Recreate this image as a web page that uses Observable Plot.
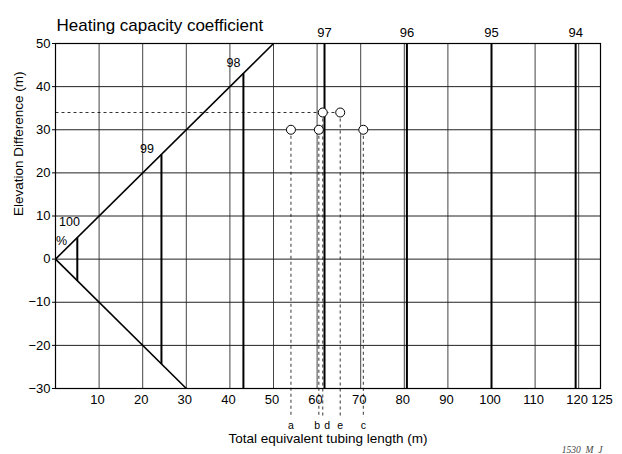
<!DOCTYPE html>
<html>
<head>
<meta charset="utf-8">
<script src="https://cdn.jsdelivr.net/npm/d3@7"></script>
<script src="https://cdn.jsdelivr.net/npm/@observablehq/plot@0.6"></script>
<style>
  html, body { margin: 0; padding: 0; background: #fff; }
</style>
</head>
<body>
<div id="chart"></div>
<script>
// ---- data ----
const xTicks = [10, 20, 30, 40, 50, 60, 70, 80, 90, 100, 110, 120];
const xEndTick = [125];
const xGrid = [10, 20, 30, 40, 50, 60, 70, 80, 90, 100, 110, 120];
const yTicks = [-30, -20, -10, 0, 10, 20, 30, 40, 50];
const yGrid = [-20, -10, 0, 10, 20, 30, 40];

// envelope (diagonal) lines
const diagX1 = [0, 0];
const diagY1 = [0, 0];
const diagX2 = [50, 30];
const diagY2 = [50, -30];

// heating capacity coefficient lines
const coefLabels = ["100", "99", "98", "97", "96", "95", "94"];
const coefX = [5, 24.3, 43.1, 61.7, 80.6, 100, 119.3];
const coefYLow = [-5, -24.3, -30, -30, -30, -30, -30];
const coefYHigh = [5, 24.3, 43.1, 50, 50, 50, 50];

// inner labels (for coefficients inside the frame)
const innerText = ["100", "%", "99", "98"];
const innerX = [3.2, 1.4, 21, 40.8];
const innerY = [8.6, 4.3, 25.5, 45.4];

// example points
const pointNames = ["a", "b", "c", "d", "e"];
const pointX = [54, 60.4, 70.6, 61.3, 65.3];
const pointY = [30, 30, 30, 34, 34];
const pointLabelX = [54, 60.0, 70.6, 62.3, 65.3];
const dropToY = -36.8;
const labelY = -38.5;

const titleText = "Heating capacity coefficient";
const xLabel = "Total equivalent tubing length (m)";
const yLabel = "Elevation Difference (m)";
const caption = "1530_M_J";

// ---- tables ----
const diags = diagX1.map((d, i) => ({x1: d, y1: diagY1[i], x2: diagX2[i], y2: diagY2[i]}));
const coefs = coefLabels.map((l, i) => ({label: l, x: coefX[i], y1: coefYLow[i], y2: coefYHigh[i]}));
const topCoefs = coefs.filter(d => d.y2 === 50);
const inner = innerText.map((t, i) => ({t, x: innerX[i], y: innerY[i]}));
const pts = pointNames.map((n, i) => ({n, x: pointX[i], y: pointY[i], lx: pointLabelX[i]}));
const eIdx = pointNames.indexOf("e");
const hDash = [{x1: 0, x2: pointX[eIdx], y: pointY[eIdx]}];

const chart = Plot.plot({
  width: 622,
  height: 454,
  marginLeft: 55,
  marginRight: 22,
  marginTop: 43,
  marginBottom: 66,
  style: {fontFamily: "'Liberation Sans', Arial, sans-serif", fontSize: "13px", background: "#fff", color: "#000"},
  x: {domain: [0, 125]},
  y: {domain: [-30, 50]},
  marks: [
    Plot.gridX(xGrid, {stroke: "#444", strokeOpacity: 1, strokeWidth: 1}),
    Plot.gridY(yGrid, {stroke: "#222", strokeOpacity: 1, strokeWidth: 1}),
    Plot.frame({stroke: "#000", strokeWidth: 1.2}),
    Plot.axisX({ticks: xTicks, tickSize: 0, tickPadding: 6, label: null, fontSize: 13, dx: -1.5}),
    Plot.axisX({ticks: xEndTick, tickSize: 0, tickPadding: 6, label: null, fontSize: 13, dx: 1.5}),
    Plot.axisY({ticks: yTicks, tickSize: 3, tickPadding: 2, label: null, fontSize: 13}),
    // envelope diagonals
    Plot.link(diags, {x1: "x1", y1: "y1", x2: "x2", y2: "y2", stroke: "#000", strokeWidth: 1.6}),
    // coefficient lines
    Plot.link(coefs, {x1: "x", x2: "x", y1: "y1", y2: "y2", stroke: "#000", strokeWidth: 2}),
    Plot.text(topCoefs, {x: "x", y: 50, text: "label", dy: -11, fontSize: 13}),
    Plot.text(inner, {x: "x", y: "y", text: "t", fontSize: 12.5}),
    // dashed reading lines
    Plot.link(hDash, {x1: "x1", x2: "x2", y1: "y", y2: "y", stroke: "#000", strokeWidth: 0.8, strokeDasharray: "3,3"}),
    Plot.link(pts, {x1: "x", x2: "x", y1: "y", y2: dropToY, stroke: "#000", strokeWidth: 0.8, strokeDasharray: "3,3"}),
    Plot.dot(pts, {x: "x", y: "y", r: 4.5, fill: "#fff", stroke: "#000", strokeWidth: 1}),
    Plot.text(pts, {x: "lx", y: labelY, text: "n", fontSize: 10.5}),
    // titles
    Plot.text([titleText], {frameAnchor: "top-left", textAnchor: "start", dx: 1, dy: -25, fontSize: 17}),
    Plot.text([xLabel], {frameAnchor: "bottom", dy: 54, fontSize: 13.5}),
    Plot.text([yLabel], {frameAnchor: "left", dx: -37, rotate: -90, fontSize: 13.5}),
    Plot.text([caption], {frameAnchor: "bottom-right", textAnchor: "end", lineAnchor: "bottom", dy: 64, dx: 2, fontSize: 9.5, fontStyle: "italic", fontFamily: "'Liberation Serif', serif", fill: "#444"})
  ]
});
document.getElementById("chart").appendChild(chart);
</script>
</body>
</html>
